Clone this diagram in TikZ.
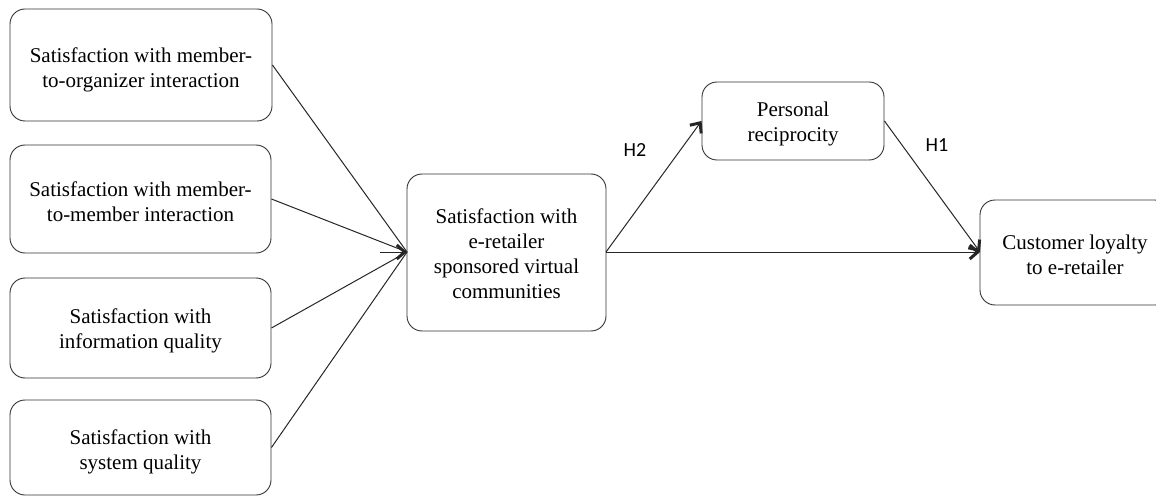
\documentclass[tikz,border=0pt]{standalone}
\usepackage{fontspec}
\setmainfont{Liberation Serif}
\newfontfamily\lblfont{Carlito}
\usetikzlibrary{arrows.meta,calc}
\begin{document}
\begin{tikzpicture}[x=1pt,y=-1pt,
  box/.style={draw=black!80,line width=0.9pt,rounded corners=15pt,inner sep=0pt},
  txt/.style={align=center,inner sep=0pt,font=\fontsize{21}{25}\selectfont},
  conn/.style={draw=black!85,line width=1pt},
  arr/.style={conn,-{Straight Barb[length=8pt,width=14pt,line width=3pt]}},
  hlbl/.style={font=\lblfont\fontsize{20}{22}\selectfont}]
\useasboundingbox (0,0) rectangle (1156,497);
\node[box,minimum width=262pt,minimum height=112pt] (b1) at (141,65) {};
\node[txt] (t1) at (141,69.5) {Satisfaction with member-\\to-organizer interaction};
\node[box,minimum width=261pt,minimum height=108pt] (b2) at (140.5,199) {};
\node[txt] (t2) at (140.5,202) {Satisfaction with member-\\to-member interaction};
\node[box,minimum width=261pt,minimum height=100pt] (b3) at (140.5,328) {};
\node[txt] (t3) at (140.5,331) {Satisfaction with\\information quality};
\node[box,minimum width=261pt,minimum height=95pt] (b4) at (140.5,447.5) {};
\node[txt] (t4) at (140.5,451.5) {Satisfaction with\\system quality};
\node[box,minimum width=199pt,minimum height=157pt] (c) at (506.5,252.5) {};
\node[txt] (tc) at (506.5,254) {Satisfaction with\\e-retailer\\sponsored virtual\\communities};
\node[box,minimum width=182pt,minimum height=78pt] (p) at (793,121) {};
\node[txt] (tp) at (793,124) {Personal\\reciprocity};
\node[box,minimum width=190pt,minimum height=105pt] (l) at (1075,252.5) {};
\node[txt] (tl) at (1075,255) {Customer loyalty\\to e-retailer};
\coordinate (cin) at (407,252);
\coordinate (cout) at (606,252);
\coordinate (lin) at (980,252);
\coordinate (aux) at (380,252);
\draw[conn] (b1.east) -- (cin);
\draw[conn] (b2.east) -- (cin);
\draw[conn] (b3.east) -- (cin);
\draw[conn] (b4.east) -- (cin);
\draw[arr] (aux) -- (cin);
\draw[arr] (cout) -- (p.west);
\draw[arr] (cout) -- (lin);
\draw[arr] (p.east) -- (lin);
\node[hlbl] (h2) at (635,150) {H2};
\node[hlbl] (h1) at (937,145) {H1};
\end{tikzpicture}
\end{document}
